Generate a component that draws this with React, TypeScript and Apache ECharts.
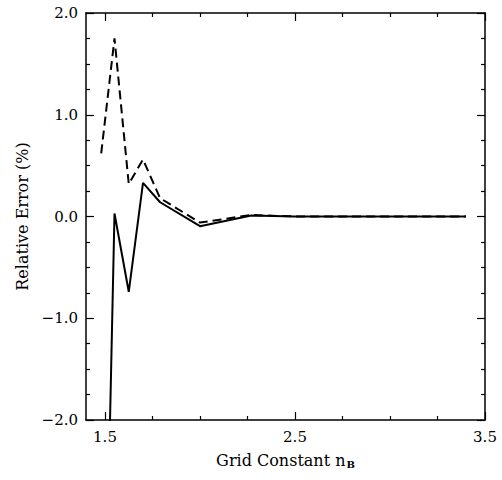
import React, { useEffect, useRef } from "react";
import * as echarts from "echarts";

const gridConstant = [1.48, 1.55, 1.625, 1.7, 1.79, 2.0, 2.27, 2.5, 2.75, 3.0, 3.25, 3.4];
const solidError = [-6.0, 0.03, -0.74, 0.33, 0.14, -0.095, 0.01, 0.0, 0.0, 0.0, 0.0, 0.0];
const dashedError = [0.62, 1.75, 0.32, 0.56, 0.18, -0.06, 0.015, 0.0, 0.0, 0.0, 0.0, 0.0];

const FONT = "DejaVu Serif";
const BLACK = "#000";

export default function App() {
  const ref = useRef<HTMLDivElement>(null);
  useEffect(() => {
    if (!ref.current) return;
    const chart = echarts.init(ref.current, null, { renderer: "svg" });
    const lineStyle = { color: BLACK, width: 1.5 };
    const tickStyle = { color: BLACK, width: 1.2 };
    const frameGrid = { left: 86, right: 17, top: 13, bottom: 60 };
    const tickGrid = { left: 105, right: 17, top: 13, bottom: 60 };
    chart.setOption({
      animation: false,
      backgroundColor: "#fff",
      grid: [frameGrid, tickGrid],
      xAxis: [
        {
          type: "value", gridIndex: 0, position: "bottom", min: 1.4, max: 3.5,
          axisLine: { show: true, onZero: false, lineStyle }, axisTick: { show: false },
          axisLabel: { show: false }, splitLine: { show: false },
          name: "Grid Constant n{sub|B}", nameLocation: "middle", nameGap: 31,
          nameTextStyle: {
            fontFamily: FONT, fontSize: 16, color: BLACK,
            rich: { sub: { fontFamily: FONT, fontSize: 10, color: BLACK, fontWeight: "bold", padding: [8, 0, 0, 1] } },
          },
        },
        {
          type: "value", gridIndex: 0, position: "top", min: 1.4, max: 3.5,
          axisLine: { show: true, onZero: false, lineStyle }, axisTick: { show: false },
          axisLabel: { show: false }, splitLine: { show: false },
        },
        {
          type: "value", gridIndex: 1, position: "bottom", min: 1.5, max: 3.5, interval: 1,
          axisLine: { show: false, onZero: false },
          axisTick: { show: true, inside: true, length: 8, lineStyle: tickStyle },
          minorTick: { show: true, splitNumber: 4, length: 4, lineStyle: tickStyle },
          axisLabel: { fontFamily: FONT, fontSize: 15, color: BLACK, margin: 9, formatter: (v: number) => v.toFixed(1) },
          splitLine: { show: false },
        },
        {
          type: "value", gridIndex: 1, position: "top", min: 1.5, max: 3.5, interval: 1,
          axisLine: { show: false, onZero: false },
          axisTick: { show: true, inside: true, length: 8, lineStyle: tickStyle },
          minorTick: { show: true, splitNumber: 4, length: 4, lineStyle: tickStyle },
          axisLabel: { show: false }, splitLine: { show: false },
        },
      ],
      yAxis: [
        {
          type: "value", gridIndex: 0, position: "left", min: -2, max: 2, interval: 1,
          axisLine: { show: true, onZero: false, lineStyle },
          axisTick: { show: true, inside: true, length: 8, lineStyle: tickStyle },
          minorTick: { show: true, splitNumber: 4, length: 4, lineStyle: tickStyle },
          axisLabel: {
            fontFamily: FONT, fontSize: 15, color: BLACK, margin: 8,
            formatter: (v: number) => v.toFixed(1).replace("-", "\u2212"),
          },
          splitLine: { show: false },
          name: "Relative Error (%)", nameLocation: "middle", nameGap: 55,
          nameTextStyle: { fontFamily: FONT, fontSize: 16, color: BLACK },
        },
        {
          type: "value", gridIndex: 0, position: "right", min: -2, max: 2, interval: 1,
          axisLine: { show: true, onZero: false, lineStyle },
          axisTick: { show: true, inside: true, length: 8, lineStyle: tickStyle },
          minorTick: { show: true, splitNumber: 4, length: 4, lineStyle: tickStyle },
          axisLabel: { show: false }, splitLine: { show: false },
        },
        {
          type: "value", gridIndex: 1, min: -2, max: 2, show: false,
          axisLine: { onZero: false },
          splitLine: { show: false },
        },
      ],
      series: [
        {
          type: "line", xAxisIndex: 0, yAxisIndex: 0, symbol: "none", clip: true,
          data: gridConstant.map((x, i) => [x, solidError[i]]),
          lineStyle: { color: BLACK, width: 2 },
        },
        {
          type: "line", xAxisIndex: 0, yAxisIndex: 0, symbol: "none", clip: true,
          data: gridConstant.map((x, i) => [x, dashedError[i]]),
          lineStyle: { color: BLACK, width: 2, type: [9, 5] },
        },
      ],
    });
    return () => chart.dispose();
  }, []);
  return <div ref={ref} style={{ position: "fixed", left: 0, top: 0, width: 502, height: 480 }} />;
}
